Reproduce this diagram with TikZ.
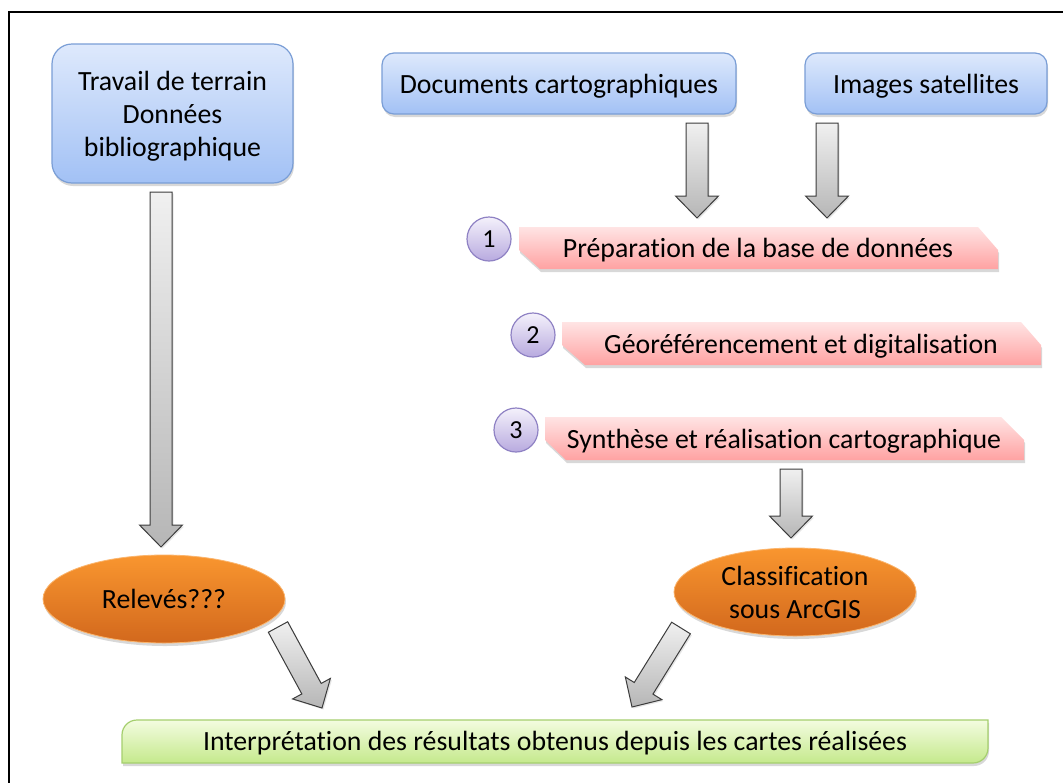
\documentclass[tikz,border=0pt]{standalone}
\usepackage{fontspec}
\setmainfont{Carlito}[Ligatures={NoCommon}]
\usetikzlibrary{shapes.geometric,shadows,calc}
\definecolor{bluetop}{HTML}{DEE9FC}
\definecolor{bluebot}{HTML}{A2C1F5}
\definecolor{blueline}{HTML}{7A9ED6}
\definecolor{pinktop}{HTML}{FFE4E4}
\definecolor{pinkbot}{HTML}{FFA2A2}
\definecolor{purtop}{HTML}{F4F1FB}
\definecolor{purbot}{HTML}{B8AADF}
\definecolor{purline}{HTML}{8F82C4}
\definecolor{orgtop}{HTML}{F9962F}
\definecolor{orgbot}{HTML}{D2681D}
\definecolor{grntop}{HTML}{F3FCE0}
\definecolor{grnbot}{HTML}{C5E98C}
\definecolor{grnline}{HTML}{A5CF6E}
\definecolor{arrtop}{HTML}{F0F0F0}
\definecolor{arrbot}{HTML}{B6B6B6}
\definecolor{arrline}{HTML}{3C3C3C}
\tikzset{
  txt/.style={font=\fontsize{27.8}{33}\selectfont, text=black},
  shadowed/.style={drop shadow={opacity=0.3, shadow xshift=1pt, shadow yshift=-3pt}},
  bluebox/.style={rectangle, rounded corners=12pt, draw=blueline, line width=1.2pt,
    top color=bluetop, bottom color=bluebot, align=center, txt, inner sep=0pt, shadowed},
  banner/.style={top color=pinktop, bottom color=pinkbot, shadowed},
  numcircle/.style={circle, minimum size=44pt, inner sep=0pt, draw=purline, line width=1.2pt,
    top color=purtop, bottom color=purbot, font=\fontsize{26}{30}\selectfont},
  orangeell/.style={ellipse, minimum width=242pt, minimum height=88pt, inner sep=0pt,
    top color=orgtop, bottom color=orgbot, draw=orgtop!70!white, line width=0.8pt,
    align=center, txt, shadowed},
  greenbox/.style={top color=grntop, bottom color=grnbot, draw=grnline, line width=1.2pt, shadowed},
  arrowstyle/.style={top color=arrtop, bottom color=arrbot, draw=arrline, line width=1pt,
    drop shadow={opacity=0.2, shadow xshift=1.5pt, shadow yshift=-1.5pt}}
}
\newcommand\blockarrow[2]{%
  \coordinate (bah) at ($(#2)!22pt!(#1)$);
  \path[arrowstyle] ($(#1)!11pt!90:(#2)$) -- ($(bah)!11pt!90:(#2)$) -- ($(bah)!21.5pt!90:(#2)$)
    -- (#2) -- ($(bah)!21.5pt!-90:(#2)$) -- ($(bah)!11pt!-90:(#2)$) -- ($(#1)!11pt!-90:(#2)$) -- cycle;}
\begin{document}
\begin{tikzpicture}[x=1pt,y=-1pt]
\useasboundingbox (0,0) rectangle (1063,782);
\fill[white] (0,0) rectangle (1063,782);
\draw[line width=2pt, black] (9,12) rectangle (1080,800);

% top boxes
\node[bluebox, minimum width=241pt, minimum height=139pt, rounded corners=20pt] (terrain) at (172.5,113.5) {};
\node[txt, align=center] (terraintxt) at (172.5,116.5) {Travail de terrain\\Données\\bibliographique};
\node[bluebox, minimum width=354pt, minimum height=61pt] (docs) at (559,83.5) {};
\node[txt] (docstxt) at (559,86.5) {Documents cartographiques};
\node[bluebox, minimum width=242pt, minimum height=61pt] (sat) at (926,83.5) {};
\node[txt] (sattxt) at (926,86.5) {Images satellites};

% banners
\path[banner] (519,227) -- (978,227) -- (998,250) -- (998,269) -- (540,269) -- (519,250) -- cycle;
\node[txt] (prep) at (758,250.5) {Préparation de la base de données};
\path[banner] (562,322) -- (1021,322) -- (1041,345) -- (1041,365) -- (585,365) -- (562,345) -- cycle;
\node[txt] (geo) at (801,346.5) {Géoréférencement et digitalisation};
\path[banner] (545,417) -- (1001,417) -- (1024,440) -- (1024,460) -- (566,460) -- (545,440) -- cycle;
\node[txt] (synth) at (784,441.5) {Synthèse et réalisation cartographique};

% circles
\node[numcircle] (c1) at (489,239) {1};
\node[numcircle] (c2) at (533,335) {2};
\node[numcircle] (c3) at (516,430) {3};

% ellipses
\node[orangeell] (rel) at (164,599) {Relevés???};
\node[orangeell] (cls) at (795,592) {Classification\\sous ArcGIS};

% green box
\path[greenbox] (122,763) -- (122,735) .. controls (122,726.7) and (128.7,720) .. (137,720)
  -- (988,720) -- (988,748) .. controls (988,756.3) and (981.3,763) .. (973,763) -- cycle;
\node[txt] (interp) at (555,743) {Interprétation des résultats obtenus depuis les cartes réalisées};

% arrow end points
\coordinate (a1s) at (161,192);  \coordinate (a1e) at (161,547);
\coordinate (a2s) at (697,123);  \coordinate (a2e) at (697,218);
\coordinate (a3s) at (827,123);  \coordinate (a3e) at (827,218);
\coordinate (a4s) at (791,469);  \coordinate (a4e) at (791,538);
\coordinate (a5s) at (278,627);  \coordinate (a5e) at (322,708);
\coordinate (a6s) at (681,628);  \coordinate (a6e) at (632,707);
\blockarrow{a1s}{a1e}
\blockarrow{a2s}{a2e}
\blockarrow{a3s}{a3e}
\blockarrow{a4s}{a4e}
\blockarrow{a5s}{a5e}
\blockarrow{a6s}{a6e}
\end{tikzpicture}
\end{document}
